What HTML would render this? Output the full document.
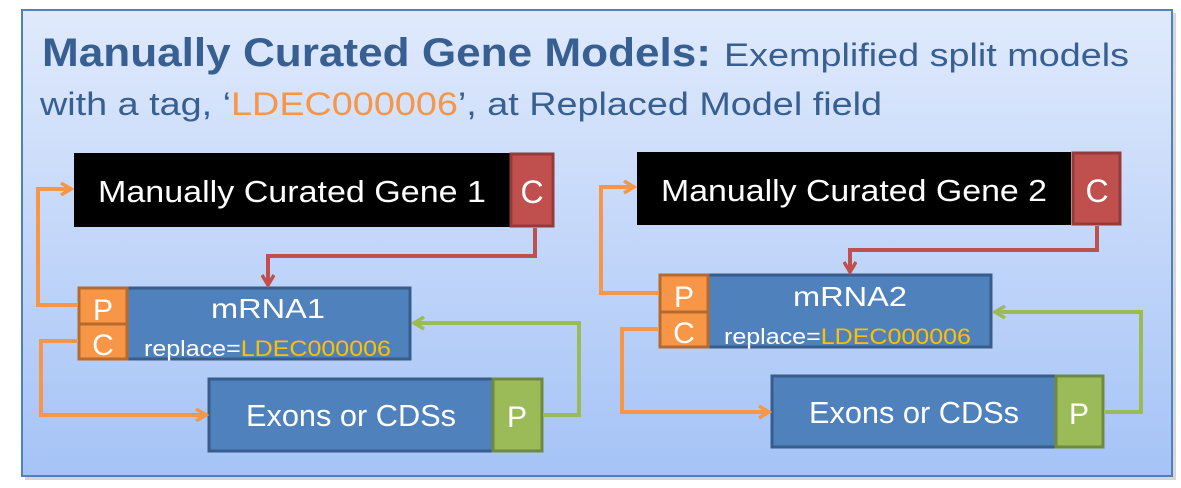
<!DOCTYPE html>
<html><head><meta charset="utf-8"><style>
html,body{margin:0;padding:0;background:#fff;width:1181px;height:488px;overflow:hidden}
svg{display:block}
text{font-family:"Liberation Sans",sans-serif}
</style></head><body>
<svg width="1181" height="488" viewBox="0 0 1181 488" xmlns="http://www.w3.org/2000/svg">
<defs>
<linearGradient id="bg" x1="0" y1="0" x2="0" y2="1">
<stop offset="0" stop-color="#e0eafc"/><stop offset="1" stop-color="#a5c3f7"/>
</linearGradient>
<marker id="ao" markerWidth="14" markerHeight="14" refX="11" refY="7" orient="auto" markerUnits="userSpaceOnUse"><path d="M1,1 L11,7 L1,13" fill="none" stroke="#f79646" stroke-width="3.5"/></marker>
<marker id="ar" markerWidth="14" markerHeight="14" refX="11" refY="7" orient="auto" markerUnits="userSpaceOnUse"><path d="M1,1 L11,7 L1,13" fill="none" stroke="#c0504d" stroke-width="3.5"/></marker>
<marker id="ag" markerWidth="14" markerHeight="14" refX="11" refY="7" orient="auto" markerUnits="userSpaceOnUse"><path d="M1,1 L11,7 L1,13" fill="none" stroke="#9bbb59" stroke-width="3.5"/></marker>
</defs>
<rect x="25" y="13" width="1151" height="467" fill="#bbb" opacity="0.6"/>
<rect x="22" y="10" width="1150" height="466" fill="url(#bg)" stroke="#4f81bd" stroke-width="2"/>
<text x="42" y="66" font-size="40" font-weight="bold" fill="#375f92" textLength="669" lengthAdjust="spacingAndGlyphs">Manually Curated Gene Models:</text>
<text x="724" y="66" font-size="32" fill="#375f92" textLength="405" lengthAdjust="spacingAndGlyphs">Exemplified split models</text>
<text x="40" y="115" font-size="32" fill="#375f92" textLength="842" lengthAdjust="spacingAndGlyphs">with a tag,  ‘<tspan fill="#f79646">LDEC000006</tspan>’, at Replaced Model field</text>

<!-- group 1 -->
<rect x="74" y="153" width="436" height="74" fill="#000"/>
<rect x="511" y="154" width="42" height="72" fill="#c0504d" stroke="#943b39" stroke-width="3"/>
<text x="98" y="202" font-size="31" fill="#fff" textLength="388" lengthAdjust="spacingAndGlyphs">Manually Curated Gene 1</text>
<text x="532" y="203" font-size="32" fill="#fff" text-anchor="middle">C</text>
<rect x="127" y="288" width="283" height="71" fill="#4f81bd" stroke="#385d8a" stroke-width="3"/>
<rect x="79" y="288" width="48" height="36" fill="#f79646" stroke="#b66a2e" stroke-width="3"/>
<rect x="79" y="324" width="48" height="35" fill="#f79646" stroke="#b66a2e" stroke-width="3"/>
<text x="103" y="320" font-size="30" fill="#fff" text-anchor="middle">P</text>
<text x="103" y="355" font-size="30" fill="#fff" text-anchor="middle">C</text>
<text x="268" y="318" font-size="28" fill="#fff" text-anchor="middle" textLength="114" lengthAdjust="spacingAndGlyphs">mRNA1</text>
<text x="144" y="356" font-size="22" fill="#fff" textLength="247" lengthAdjust="spacingAndGlyphs">replace=<tspan fill="#ffc000">LDEC000006</tspan></text>
<rect x="209" y="379" width="284" height="72" fill="#4f81bd" stroke="#385d8a" stroke-width="3"/>
<rect x="493" y="379" width="49" height="72" fill="#9bbb59" stroke="#71893f" stroke-width="3"/>
<text x="246" y="426" font-size="31" fill="#fff" textLength="210" lengthAdjust="spacingAndGlyphs">Exons or CDSs</text>
<text x="517" y="427" font-size="30" fill="#fff" text-anchor="middle">P</text>
<polyline points="535,228 535,256 268,256 268,285" fill="none" stroke="#c0504d" stroke-width="4" marker-end="url(#ar)"/>
<polyline points="78,305 38,305 38,189 71,189" fill="none" stroke="#f79646" stroke-width="4" marker-end="url(#ao)"/>
<polyline points="78,341 41,341 41,415 206,415" fill="none" stroke="#f79646" stroke-width="4" marker-end="url(#ao)"/>
<polyline points="543,415 579,415 579,323 414,323" fill="none" stroke="#9bbb59" stroke-width="4" marker-end="url(#ag)"/>

<!-- group 2 -->
<rect x="637" y="152" width="434" height="73" fill="#000"/>
<rect x="1073" y="153" width="47" height="71" fill="#c0504d" stroke="#943b39" stroke-width="3"/>
<text x="661" y="201" font-size="31" fill="#fff" textLength="386" lengthAdjust="spacingAndGlyphs">Manually Curated Gene 2</text>
<text x="1097" y="202" font-size="32" fill="#fff" text-anchor="middle">C</text>
<rect x="708" y="275" width="283" height="72" fill="#4f81bd" stroke="#385d8a" stroke-width="3"/>
<rect x="660" y="275" width="48" height="37" fill="#f79646" stroke="#b66a2e" stroke-width="3"/>
<rect x="660" y="312" width="48" height="35" fill="#f79646" stroke="#b66a2e" stroke-width="3"/>
<text x="684" y="307" font-size="30" fill="#fff" text-anchor="middle">P</text>
<text x="684" y="343" font-size="30" fill="#fff" text-anchor="middle">C</text>
<text x="850" y="306" font-size="28" fill="#fff" text-anchor="middle" textLength="114" lengthAdjust="spacingAndGlyphs">mRNA2</text>
<text x="724" y="344" font-size="22" fill="#fff" textLength="247" lengthAdjust="spacingAndGlyphs">replace=<tspan fill="#ffc000">LDEC000006</tspan></text>
<rect x="772" y="376" width="284" height="71" fill="#4f81bd" stroke="#385d8a" stroke-width="3"/>
<rect x="1056" y="376" width="47" height="71" fill="#9bbb59" stroke="#71893f" stroke-width="3"/>
<text x="809" y="423" font-size="31" fill="#fff" textLength="210" lengthAdjust="spacingAndGlyphs">Exons or CDSs</text>
<text x="1079" y="424" font-size="30" fill="#fff" text-anchor="middle">P</text>
<polyline points="1097,226 1097,250 850,250 850,272" fill="none" stroke="#c0504d" stroke-width="4" marker-end="url(#ar)"/>
<polyline points="659,293 601,293 601,187 634,187" fill="none" stroke="#f79646" stroke-width="4" marker-end="url(#ao)"/>
<polyline points="659,329 622,329 622,412 769,412" fill="none" stroke="#f79646" stroke-width="4" marker-end="url(#ao)"/>
<polyline points="1104,412 1141,412 1141,312 995,312" fill="none" stroke="#9bbb59" stroke-width="4" marker-end="url(#ag)"/>
</svg>
</body></html>
